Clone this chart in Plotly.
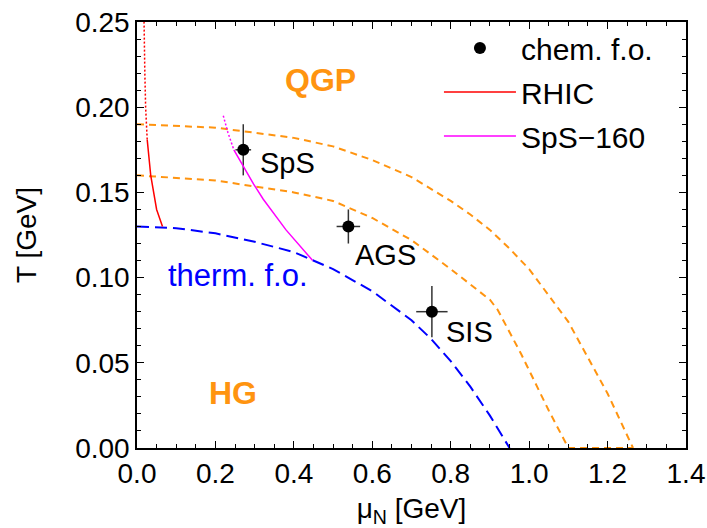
import plotly.graph_objects as go

# ---------------- data ----------------
# chemical freeze-out points
chem_mu = [0.271, 0.539, 0.752]
chem_T = [0.175, 0.130, 0.080]
chem_mu_err = [0.02, 0.03, 0.04]
chem_T_err = [0.015, 0.010, 0.015]
chem_labels = ["SpS", "AGS", "SIS"]

# RHIC isentrope (solid part + dotted continuation)
rhic_mu = [0.065, 0.050, 0.035, 0.026]
rhic_T = [0.130, 0.140, 0.160, 0.181]
rhic_dot_mu = [0.026, 0.022, 0.020, 0.018]
rhic_dot_T = [0.181, 0.200, 0.220, 0.250]

# SpS-160 isentrope
sps_mu = [0.247, 0.297, 0.322, 0.380, 0.448]
sps_T = [0.175, 0.155, 0.146, 0.128, 0.110]
sps_dot_mu = [0.220, 0.232, 0.247]
sps_dot_T = [0.195, 0.185, 0.175]

# thermal freeze-out curve
therm_mu = [0.0, 0.1, 0.2, 0.3, 0.4, 0.45, 0.5, 0.6, 0.7, 0.75, 0.8, 0.85, 0.9, 0.95]
therm_T = [0.130, 0.129, 0.126, 0.121, 0.115, 0.110, 0.105, 0.092, 0.075, 0.064, 0.051, 0.036, 0.019, 0.0]

# phase boundary band (upper and lower edges)
upper_mu = [0.0, 0.2, 0.4, 0.5, 0.6, 0.7, 0.8, 0.85, 0.9, 0.95, 1.0, 1.1, 1.2, 1.265]
upper_T = [0.190, 0.188, 0.182, 0.177, 0.169, 0.159, 0.145, 0.137, 0.128, 0.117, 0.105, 0.074, 0.032, 0.0]
lower_mu = [0.0, 0.2, 0.4, 0.5, 0.6, 0.7, 0.8, 0.9, 0.92, 0.98, 1.05, 1.10, 1.265]
lower_T = [0.160, 0.157, 0.150, 0.145, 0.135, 0.122, 0.105, 0.087, 0.081, 0.055, 0.022, 0.0, 0.0]

x_ticks = [0.0, 0.2, 0.4, 0.6, 0.8, 1.0, 1.2, 1.4]
y_ticks = [0.00, 0.05, 0.10, 0.15, 0.20, 0.25]

FONT = "Liberation Sans, Arial, Helvetica, sans-serif"
ORANGE = "#FF9410"

fig = go.Figure()

fig.add_trace(go.Scatter(x=upper_mu, y=upper_T, mode="lines", showlegend=False,
                         line=dict(color=ORANGE, width=2, dash="7px,5px")))
fig.add_trace(go.Scatter(x=lower_mu, y=lower_T, mode="lines", showlegend=False,
                         line=dict(color=ORANGE, width=2, dash="7px,5px")))
fig.add_trace(go.Scatter(x=therm_mu, y=therm_T, mode="lines", showlegend=False,
                         line=dict(color="#0000FF", width=2, dash="12px,6px")))

fig.add_trace(go.Scatter(x=rhic_dot_mu, y=rhic_dot_T, mode="lines", showlegend=False,
                         line=dict(color="#FF0000", width=1.5, dash="2px,2px")))
fig.add_trace(go.Scatter(x=sps_dot_mu, y=sps_dot_T, mode="lines", showlegend=False,
                         line=dict(color="#FF00FF", width=1.5, dash="2px,2px")))

fig.add_trace(go.Scatter(
    x=chem_mu, y=chem_T, mode="markers", name="chem. f.o.", legendgroup="a",
    marker=dict(color="black", size=12),
    error_x=dict(type="data", array=chem_mu_err, color="#333333", thickness=1.5, width=0),
    error_y=dict(type="data", array=chem_T_err, color="#333333", thickness=1.5, width=0)))
fig.add_trace(go.Scatter(x=rhic_mu, y=rhic_T, mode="lines", name="RHIC", legendgroup="b",
                         line=dict(color="#FF0000", width=1.5)))
fig.add_trace(go.Scatter(x=sps_mu, y=sps_T, mode="lines", name="SpS\u2212160", legendgroup="c",
                         line=dict(color="#FF00FF", width=1.5)))

# labels
label_pos = [(0.385, 0.167), (0.633, 0.113), (0.848, 0.068)]
for txt, (lx, ly) in zip(chem_labels, label_pos):
    fig.add_annotation(x=lx, y=ly, text=txt, showarrow=False,
                       font=dict(size=29, color="black", family=FONT))
fig.add_annotation(x=0.467, y=0.216, text="<b>QGP</b>", showarrow=False,
                   font=dict(size=32, color=ORANGE, family=FONT))
fig.add_annotation(x=0.245, y=0.032, text="<b>HG</b>", showarrow=False,
                   font=dict(size=32, color=ORANGE, family=FONT))
fig.add_annotation(x=0.258, y=0.1015, text="therm. f.o.", showarrow=False,
                   font=dict(size=31, color="#0000FF", family=FONT))

axis_common = dict(showgrid=False, zeroline=False, showline=True, linecolor="black",
                   linewidth=1.5, mirror="allticks", ticks="inside", ticklen=7,
                   tickcolor="black", tickwidth=1.2, automargin=False,
                   tickfont=dict(size=28, color="black", family=FONT))

fig.update_xaxes(range=[0, 1.4], tickvals=x_ticks, tickformat=".1f",
                 minor=dict(dtick=0.05, ticks="inside", ticklen=4, tickcolor="black"),
                 title=dict(text="\u03bc<sub>N</sub> [GeV]", font=dict(size=28, family=FONT, color="black"),
                            standoff=12),
                 **axis_common)
fig.update_yaxes(range=[0, 0.25], tickvals=y_ticks, tickformat=".2f",
                 minor=dict(dtick=0.01, ticks="inside", ticklen=4, tickcolor="black"),
                 title=dict(text="T [GeV]", font=dict(size=28, family=FONT, color="black"),
                            standoff=30),
                 **axis_common)

fig.update_layout(
    width=707, height=528,
    margin=dict(l=137, r=21, t=22, b=80),
    plot_bgcolor="white", paper_bgcolor="white",
    font=dict(family=FONT, color="black"),
    legend=dict(x=0.55, y=1.0, xanchor="left", yanchor="top",
                font=dict(size=30, family=FONT, color="black"),
                bgcolor="rgba(0,0,0,0)", itemwidth=72,
                traceorder="grouped", tracegroupgap=2),
)

fig.write_html("out.html")
